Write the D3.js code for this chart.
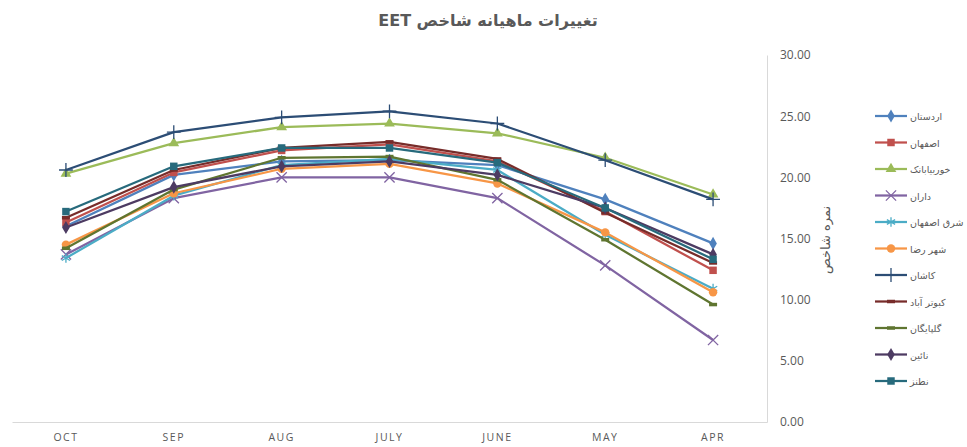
<!DOCTYPE html>
<html lang="fa">
  <head>
    <meta charset="utf-8" />
    <style>
      body { margin: 0; background: #fff; }
      text { fill: #595959; }
      .fa { font-family: "DejaVu Sans", sans-serif; }
      .lat { font-family: "Open Sans", "Liberation Sans", sans-serif; }
    </style>
    <script src="https://d3js.org/d3.v7.min.js"></script>
  </head>
  <body>
    <svg width="967" height="447"></svg>
    <script>
      // categories (left to right as in the picture)
      const months = ["OCT", "SEP", "AUG", "JULY", "JUNE", "MAY", "APR"];
      const yTicks = [0, 5, 10, 15, 20, 25, 30];

      // series values, one array per city
      const ardestan = [16.0, 20.2, 21.3, 21.4, 21.0, 18.2, 14.6];
      const isfahan = [16.3, 20.4, 22.2, 22.7, 21.3, 17.2, 12.4];
      const khorbiabanak = [20.3, 22.8, 24.1, 24.4, 23.6, 21.6, 18.6];
      const daran = [13.7, 18.3, 20.0, 20.0, 18.3, 12.8, 6.7];
      const sharghIsfahan = [13.4, 18.5, 21.0, 21.5, 20.6, 15.3, 10.9];
      const shahreza = [14.5, 18.7, 20.7, 21.1, 19.5, 15.5, 10.6];
      const kashan = [20.6, 23.7, 24.9, 25.4, 24.4, 21.4, 18.2];
      const kabutarAbad = [16.7, 20.6, 22.4, 22.9, 21.5, 17.1, 13.0];
      const golpayegan = [14.2, 19.0, 21.6, 21.7, 19.8, 14.9, 9.6];
      const naein = [15.9, 19.2, 20.9, 21.3, 20.2, 17.5, 13.7];
      const natanz = [17.2, 20.9, 22.4, 22.4, 21.2, 17.5, 13.3];

      const series = [
        { name: "اردستان", values: ardestan, color: "#4F81BD", marker: "diamond" },
        { name: "اصفهان", values: isfahan, color: "#C0504D", marker: "square" },
        { name: "خوربیابانک", values: khorbiabanak, color: "#9BBB59", marker: "triangle" },
        { name: "داران", values: daran, color: "#8064A2", marker: "x" },
        { name: "شرق اصفهان", values: sharghIsfahan, color: "#4BACC6", marker: "asterisk" },
        { name: "شهر رضا", values: shahreza, color: "#F79646", marker: "circle" },
        { name: "کاشان", values: kashan, color: "#2C4D75", marker: "plus" },
        { name: "کبوتر آباد", values: kabutarAbad, color: "#772C2A", marker: "dash" },
        { name: "گلپایگان", values: golpayegan, color: "#5F7530", marker: "dash" },
        { name: "نائین", values: naein, color: "#4D3B62", marker: "diamond" },
        { name: "نطنز", values: natanz, color: "#276A7C", marker: "square" },
      ];

      const svg = d3.select("svg");
      const plotLeft = 12, plotRight = 767, plotTop = 55, plotBottom = 422;

      const x = d3.scaleBand().domain(months).range([plotLeft, plotRight]);
      const y = d3.scaleLinear().domain([0, 30]).range([plotBottom, plotTop]);
      const cx = (m) => x(m) + x.bandwidth() / 2;

      // title (right-to-left so EET sits at the left end)
      svg.append("text")
        .attr("class", "fa")
        .attr("x", 488)
        .attr("y", 26)
        .attr("direction", "rtl")
        .attr("text-anchor", "middle")
        .attr("font-size", 16)
        .attr("font-weight", "bold")
        .text("تغییرات ماهیانه شاخص EET");

      // x axis
      const gx = svg.append("g")
        .attr("transform", "translate(0," + plotBottom + ")")
        .call(d3.axisBottom(x).tickSize(0).tickPadding(12));
      gx.select(".domain").attr("stroke", "#D9D9D9");
      gx.selectAll("text")
        .attr("class", "lat")
        .attr("font-size", 10.5)
        .attr("letter-spacing", 1.5)
        .attr("fill", "#595959");

      // y axis on the right
      const gy = svg.append("g")
        .attr("transform", "translate(" + plotRight + ",0)")
        .call(d3.axisRight(y).tickValues(yTicks).tickFormat(d3.format(".2f"))
          .tickSize(0).tickPadding(13));
      gy.select(".domain").attr("stroke", "#D9D9D9");
      gy.selectAll("text")
        .attr("class", "lat")
        .attr("font-size", 12)
        .attr("fill", "#595959");

      svg.append("text")
        .attr("class", "fa")
        .attr("transform", "translate(830,240) rotate(-90)")
        .attr("text-anchor", "middle")
        .attr("font-size", 13)
        .text("نمره شاخص");

      const line = d3.line()
        .x((d, i) => cx(months[i]))
        .y((d) => y(d));

      function drawMarker(g, type, color, px, py) {
        const s = g.append("g").attr("transform", "translate(" + px + "," + py + ")");
        if (type === "diamond") {
          s.append("path").attr("d", d3.symbol(d3.symbolDiamond, 50)()).attr("fill", color);
        } else if (type === "square") {
          s.append("path").attr("d", d3.symbol(d3.symbolSquare, 56)()).attr("fill", color);
        } else if (type === "triangle") {
          s.append("path").attr("d", d3.symbol(d3.symbolTriangle, 50)()).attr("fill", color);
        } else if (type === "circle") {
          s.append("path").attr("d", d3.symbol(d3.symbolCircle, 56)()).attr("fill", color);
        } else if (type === "x") {
          s.append("path").attr("d", d3.symbol(d3.symbolX, 70)())
            .attr("fill", "none").attr("stroke", color).attr("stroke-width", 1.3);
        } else if (type === "asterisk") {
          s.append("path").attr("d", d3.symbol(d3.symbolAsterisk, 64)())
            .attr("fill", "none").attr("stroke", color).attr("stroke-width", 1.3);
        } else if (type === "plus") {
          s.append("path").attr("d", d3.symbol(d3.symbolPlus, 64)())
            .attr("fill", "none").attr("stroke", color).attr("stroke-width", 1.3);
        } else if (type === "dash") {
          s.append("line").attr("x1", -4).attr("x2", 4)
            .attr("stroke", color).attr("stroke-width", 3.5);
        }
      }

      // lines and markers
      series.forEach(function (s) {
        const g = svg.append("g");
        g.append("path")
          .datum(s.values)
          .attr("d", line)
          .attr("fill", "none")
          .attr("stroke", s.color)
          .attr("stroke-width", 2.25)
          .attr("stroke-linejoin", "round");
        s.values.forEach(function (v, i) {
          drawMarker(g, s.marker, s.color, cx(months[i]), y(v));
        });
      });

      // legend
      const legend = svg.append("g");
      series.forEach(function (s, i) {
        const ly = 116 + i * 26.5;
        legend.append("line")
          .attr("x1", 875).attr("x2", 907)
          .attr("y1", ly).attr("y2", ly)
          .attr("stroke", s.color).attr("stroke-width", 2.25);
        drawMarker(legend, s.marker, s.color, 891, ly);
        legend.append("text")
          .attr("class", "fa")
          .attr("x", 910)
          .attr("y", ly + 4)
          .attr("font-size", 9.5)
          .text(s.name);
      });
    </script>
  </body>
</html>
